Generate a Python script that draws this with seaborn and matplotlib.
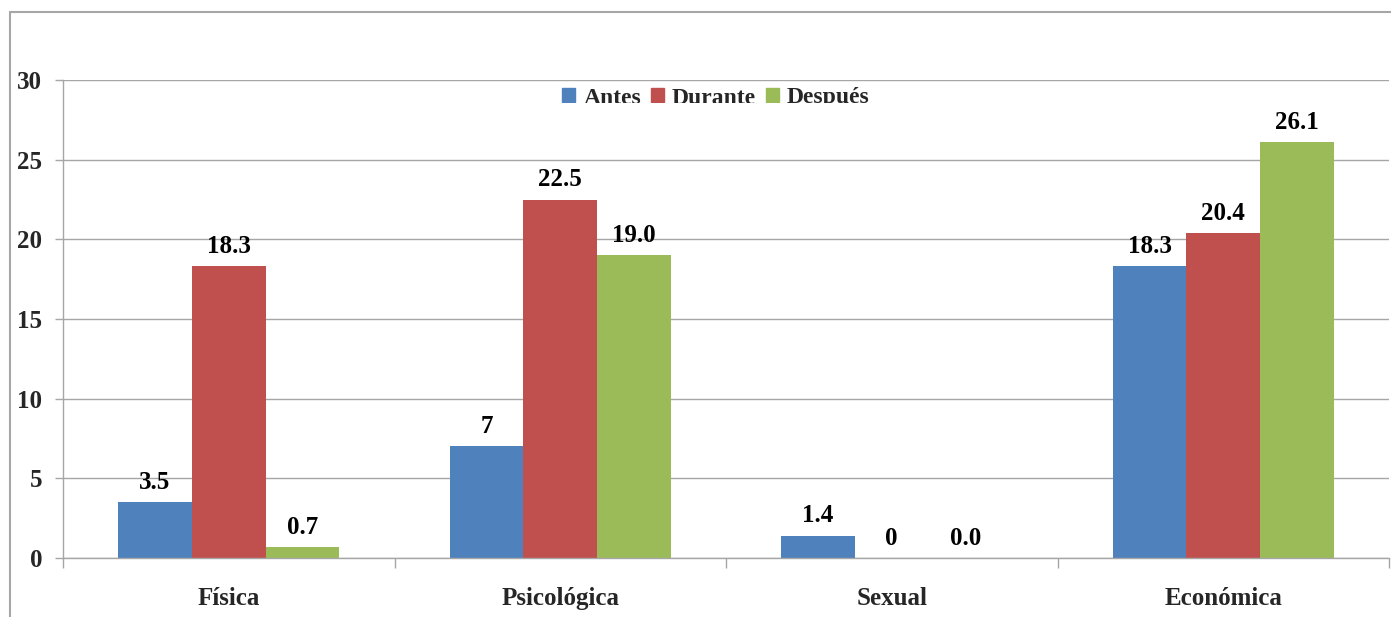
import matplotlib
matplotlib.use("Agg")
import matplotlib.pyplot as plt
import seaborn as sns
import pandas as pd
from matplotlib.lines import Line2D
from matplotlib.patches import Rectangle

categories = ["Física", "Psicológica", "Sexual", "Económica"]
series = ["Antes", "Durante", "Después"]
antes = [3.5, 7.0, 1.4, 18.3]
durante = [18.3, 22.5, 0.0, 20.4]
despues = [0.7, 19.0, 0.0, 26.1]
antes_labels = ["3.5", "7", "1.4", "18.3"]
durante_labels = ["18.3", "22.5", "0", "20.4"]
despues_labels = ["0.7", "19.0", "0.0", "26.1"]
yticks = [0, 5, 10, 15, 20, 25, 30]
colors = ["#4F81BD", "#C0504D", "#9BBB59"]

rows = []
for s, vals in zip(series, [antes, durante, despues]):
    for c, v in zip(categories, vals):
        rows.append({"cat": c, "serie": s, "val": v})
df = pd.DataFrame(rows)

sns.set_theme(style="white")
plt.rcParams["font.family"] = ["Liberation Serif", "DejaVu Serif"]
plt.rcParams["font.weight"] = "bold"

fig = plt.figure(figsize=(13.91, 6.17), dpi=100)
ax = fig.add_axes([63/1391, 1-558/617, (1389-63)/1391, (558-80)/617])

sns.barplot(data=df, x="cat", y="val", hue="serie", order=categories,
            hue_order=series, palette=colors, width=0.667, gap=0,
            saturation=1, ax=ax, legend=False, edgecolor="none", linewidth=0)

for cont, labs in zip(ax.containers, [antes_labels, durante_labels, despues_labels]):
    ax.bar_label(cont, labels=labs, padding=6, fontsize=18, fontweight="bold",
                 color="black")

grid_c = "#A6A6A6"
ax.set_ylim(0, 30)
ax.set_xlim(-0.5, 3.5)
ax.set_yticks(yticks)
ax.set_yticklabels([str(t) for t in yticks], fontsize=18, fontweight="bold")
ax.yaxis.grid(True, color=grid_c, linewidth=1)
ax.set_axisbelow(True)
ax.set_xticks(range(len(categories)))
ax.set_xticklabels(categories, fontsize=18, fontweight="bold")
ax.set_xticks([-0.5, 0.5, 1.5, 2.5, 3.5], minor=True)
ax.tick_params(axis="x", which="major", length=0, pad=21)
ax.tick_params(axis="x", which="minor", length=7, color=grid_c, width=1,
               direction="out", bottom=True)
ax.tick_params(axis="y", length=6, color=grid_c, width=1, direction="out",
               left=True, pad=9)
ax.set_xlabel("")
ax.set_ylabel("")
for sp in ["top", "right"]:
    ax.spines[sp].set_visible(False)
for sp in ["left", "bottom"]:
    ax.spines[sp].set_color(grid_c)
    ax.spines[sp].set_linewidth(1)

handles = [Rectangle((0, 0), 1, 1, color=c) for c in colors]
leg = fig.legend(handles, series, loc="center", ncol=3, frameon=False,
                 bbox_to_anchor=(716/1391, 1-98/617),
                 handlelength=0.55, handleheight=0.55, handletextpad=0.35,
                 columnspacing=0.4, prop={"weight": "bold", "size": 17})
# cover lower part of legend (clipped in the reference)
fig.add_artist(Rectangle((540/1391, 1-118/617), 340/1391, 15/617,
                         transform=fig.transFigure, facecolor="white",
                         edgecolor="none", zorder=10))

# outer chart frame
fig.add_artist(Line2D([10/1391, 1], [1-12/617, 1-12/617], color=grid_c,
                      linewidth=1.5, transform=fig.transFigure))
fig.add_artist(Line2D([10/1391, 10/1391], [0, 1-12/617], color=grid_c,
                      linewidth=1.5, transform=fig.transFigure))

fig.savefig("out.png", dpi=100)
